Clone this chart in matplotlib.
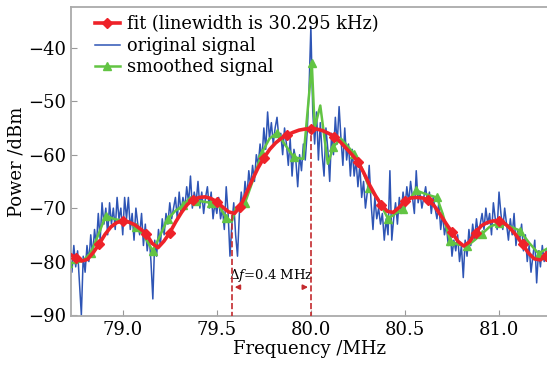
import matplotlib
matplotlib.use("Agg")
import matplotlib.pyplot as plt
import numpy as np

plt.rcParams['font.family'] = ['DejaVu Serif']
plt.rcParams['mathtext.fontset'] = 'dejavuserif'

# fit curve, sampled every 1/32 MHz starting at 78.71875 MHz
fit_start = 78.71875
fit_step = 1 / 32
fit_y = [-78.6, -79.3, -79.9, -79.6, -78.3, -76.7, -74.9, -73.5,
         -72.7, -72.4, -72.6, -73.1, -73.9, -74.8, -76.6, -77.4,
         -76.2, -74.6, -72.6, -70.8, -69.3, -68.4, -68.0, -67.9,
         -68.2, -68.8, -69.8, -70.7, -71.0, -69.7, -67.3, -64.8,
         -62.5, -60.6, -59.0, -57.8, -56.9, -56.3, -55.8, -55.4,
         -55.2, -55.1, -55.2, -55.5, -56.0, -56.6, -57.6, -58.8,
         -60.0, -61.3, -63.4, -65.7, -67.7, -69.4, -70.6, -70.8,
         -69.9, -68.7, -68.1, -68.0, -68.1, -68.5, -69.6, -71.2,
         -72.9, -74.5, -76.2, -77.1, -76.3, -74.6, -73.3, -72.7,
         -72.4, -72.4, -72.9, -73.9, -75.2, -76.8, -78.4, -79.5,
         -79.7, -79.0]
fit_x = fit_start + fit_step * np.arange(len(fit_y))

# original signal, every 0.01 MHz from 78.72 MHz
orig_start = 78.72
orig_step = 0.01
orig_y = [-79, -82, -77, -81, -78, -84, -90, -79, -82, -77,
          -80, -75, -79, -74, -77, -71, -76, -69, -73, -70,
          -75, -69, -73, -70, -74, -68, -72, -70, -75, -68,
          -72, -68, -74, -71, -76, -70, -73, -75, -71, -77,
          -73, -78, -75, -80, -87, -76, -79, -74, -77, -72,
          -75, -71, -73, -69, -72, -70, -68, -72, -67, -71,
          -68, -70, -66, -69, -64, -70, -67, -69, -65, -70,
          -67, -71, -68, -66, -70, -67, -72, -69, -71, -68,
          -72, -70, -74, -66, -71, -79, -73, -69, -75, -79,
          -71, -67, -70, -65, -68, -63, -66, -62, -65, -60,
          -62, -58, -61, -55, -59, -52, -57, -54, -58, -55,
          -53, -57, -56, -60, -55, -58, -62, -57, -64, -59,
          -61, -66, -60, -63, -58, -61, -56, -48, -36, -52,
          -58, -52, -61, -54, -60, -64, -55, -59, -65, -56,
          -60, -53, -58, -51, -57, -62, -55, -61, -58, -64,
          -59, -64, -61, -66, -62, -68, -65, -70, -67, -62,
          -69, -74, -68, -72, -70, -73, -71, -76, -72, -75,
          -63, -76, -72, -69, -73, -68, -71, -67, -70, -66,
          -69, -65, -68, -71, -63, -69, -67, -70, -68, -66,
          -69, -67, -71, -68, -70, -72, -69, -74, -71, -75,
          -73, -77, -74, -79, -76, -78, -75, -80, -77, -83,
          -76, -79, -74, -77, -73, -76, -72, -75, -73, -71,
          -74, -70, -73, -71, -75, -69, -72, -74, -67, -71,
          -74, -70, -73, -76, -72, -75, -71, -77, -74, -76,
          -73, -78, -75, -80, -77, -82, -79, -76, -84, -78,
          -81, -77, -80, -78]
orig_x = orig_start + orig_step * np.arange(len(orig_y))

# smoothed signal
smooth_x = [78.71, 78.75, 78.79, 78.83, 78.87, 78.91, 78.95, 78.99, 79.03, 79.07,
            79.11, 79.16, 79.20, 79.24, 79.28, 79.32, 79.36, 79.39, 79.43, 79.47,
            79.51, 79.55, 79.58, 79.60, 79.65, 79.69, 79.74, 79.78, 79.82, 79.86,
            79.91, 79.96, 80.005, 80.02, 80.05, 80.09, 80.12, 80.16, 80.23, 80.27,
            80.31, 80.36, 80.41, 80.45, 80.49, 80.52, 80.56, 80.62, 80.67, 80.70,
            80.74, 80.78, 80.83, 80.87, 80.91, 80.95, 81.00, 81.05, 81.11, 81.16,
            81.21, 81.26]
smooth_y = [-80.2, -80.3, -79.8, -78.4, -75.0, -71.4, -72.0, -72.3, -72.6, -73.6,
            -75.0, -78.0, -75.0, -72.0, -70.5, -69.5, -68.0, -68.6, -68.8, -69.0,
            -69.5, -71.8, -72.5, -70.0, -69.0, -65.0, -59.6, -57.0, -55.9, -58.0,
            -60.5, -60.8, -42.9, -55.0, -50.8, -61.7, -58.5, -57.0, -59.8, -62.5,
            -66.2, -68.5, -72.0, -71.0, -70.1, -68.5, -66.7, -67.5, -68.0, -71.0,
            -76.1, -76.8, -77.1, -76.0, -74.8, -73.5, -72.8, -73.3, -74.2, -76.5,
            -78.5, -77.5]
smooth_marks = [0, 3, 5, 9, 11, 13, 15, 17, 19, 21, 24, 26, 28, 30, 32, 36, 38,
                40, 42, 44, 46, 48, 50, 52, 54, 56, 58, 60]

# delta f markers
f_left = 79.58
f_right = 80.0

fig = plt.figure(figsize=(5.47, 3.70), dpi=100)
ax = fig.add_axes([0.1298, 0.1459, 0.8702, 0.8345])

ax.plot(fit_x, fit_y, color='#ee2229', lw=2.6, marker='D', ms=5,
        markevery=(1, 4), zorder=4, label='fit (linewidth is 30.295 kHz)')
ax.plot(orig_x, orig_y, color='#2e55b5', lw=1.1, zorder=2, label='original signal')
ax.plot(smooth_x, smooth_y, color='#62c443', lw=1.8, marker='^', ms=6,
        markevery=smooth_marks, zorder=3, label='smoothed signal')

dcol = '#c42a2e'
ax.plot([f_left, f_left], [-90.5, -71.0], color=dcol, ls='--', lw=1.2, zorder=5)
ax.plot([f_right, f_right], [-90.5, -55.1], color=dcol, ls='--', lw=1.2, zorder=5)
ax.annotate('', xy=(f_left, -84.8), xytext=(f_left + 0.05, -84.8),
            arrowprops=dict(arrowstyle='-|>', color=dcol, lw=1.2, mutation_scale=7))
ax.annotate('', xy=(f_right, -84.8), xytext=(f_right - 0.05, -84.8),
            arrowprops=dict(arrowstyle='-|>', color=dcol, lw=1.2, mutation_scale=7))
ax.text((f_left + f_right) / 2, -82.6, r'$\Delta f$=0.4 MHz', ha='center', va='center',
        fontsize=9.5)

ax.set_xlim(78.725, 81.255)
ax.set_ylim(-90.2, -32.4)
ax.set_xticks([79.0, 79.5, 80.0, 80.5, 81.0])
ax.set_xticklabels(['79.0', '79.5', '80.0', '80.5', '81.0'])
ax.set_yticks([-90, -80, -70, -60, -50, -40])
ax.set_yticklabels(['\u221290', '\u221280', '\u221270', '\u221260', '\u221250', '\u221240'])
ax.tick_params(direction='in', length=4, color='#999999', labelsize=13)
ax.spines['right'].set_visible(False)
for s in ['left', 'top', 'bottom']:
    ax.spines[s].set_color('#aaaaaa')
    ax.spines[s].set_linewidth(1.3)
ax.set_xlabel('Frequency /MHz', fontsize=13, labelpad=1)
ax.set_ylabel('Power /dBm', fontsize=13, labelpad=2)

ax.legend(loc='upper left', bbox_to_anchor=(0.02, 1.02), frameon=False, fontsize=12.8,
          handlelength=1.4, handletextpad=0.4, labelspacing=0.2, borderpad=0.3)

fig.savefig('out.png', dpi=100)
